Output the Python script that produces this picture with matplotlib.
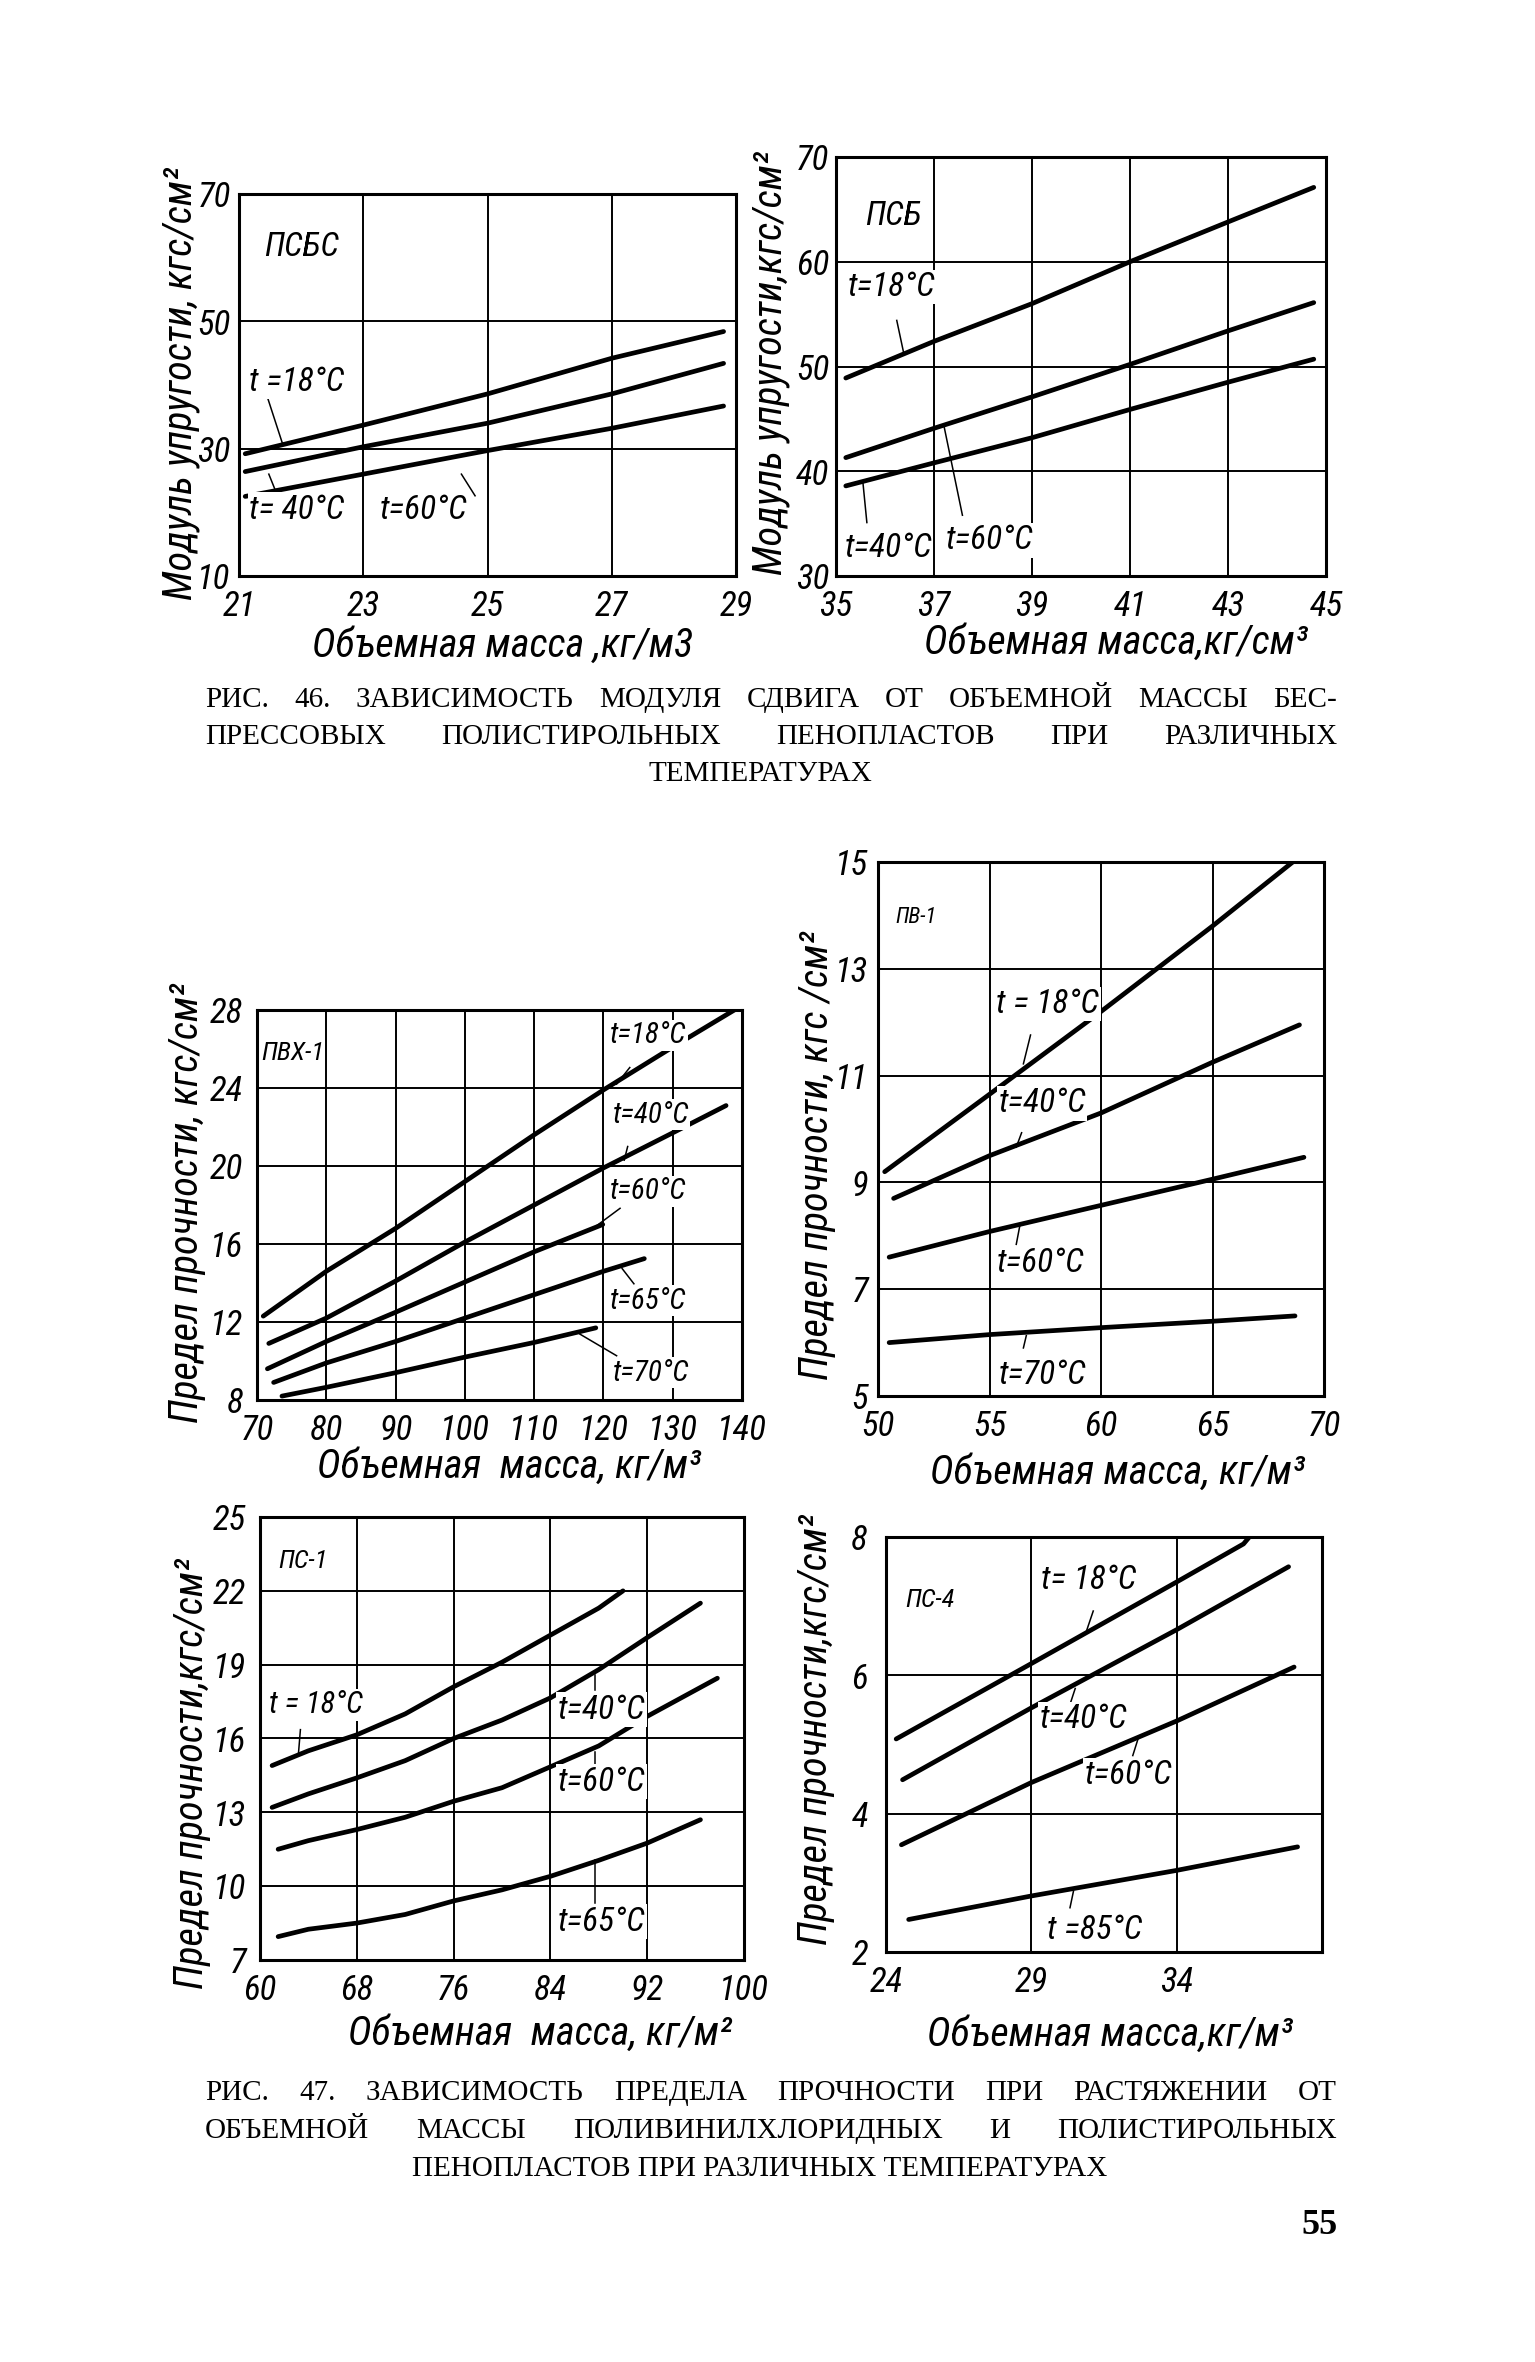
import matplotlib
matplotlib.use('Agg')
import matplotlib.pyplot as plt
from matplotlib import font_manager
from matplotlib.font_manager import FontProperties

# ---- data ----
# Fig. 46, ПСБС: modulus vs density
psbs_x = [21.1, 23, 25, 27, 28.8]
psbs_t18 = [29.2, 33.7, 38.6, 44.2, 48.4]
psbs_t40 = [26.4, 30.3, 34.0, 38.6, 43.4]
psbs_t60 = [22.5, 26.0, 29.7, 33.2, 36.7]

# Fig. 46, ПСБ
psb_x = [35.2, 37, 39, 41, 43, 44.75]
psb_t18 = [48.9, 52.4, 56.0, 60.0, 63.8, 67.1]
psb_t60 = [41.3, 44.1, 47.1, 50.2, 53.4, 56.1]
psb_t40 = [38.6, 40.8, 43.2, 45.9, 48.5, 50.7]

# Fig. 47, ПВХ-1
pvh_x18 = [70.9, 80, 90, 100, 110, 120, 130, 138.9]
pvh_t18 = [12.3, 14.6, 16.8, 19.2, 21.6, 23.9, 26.1, 28.0]
pvh_x40 = [71.7, 80, 90, 100, 110, 120, 130, 137.7]
pvh_t40 = [10.9, 12.2, 14.1, 16.1, 18.0, 19.9, 21.7, 23.1]
pvh_x60 = [71.5, 80, 90, 100, 110, 119.9]
pvh_t60 = [9.6, 11.0, 12.5, 14.05, 15.6, 17.0]
pvh_x65 = [72.4, 80, 90, 100, 110, 120, 125.9]
pvh_t65 = [8.9, 9.9, 11.0, 12.2, 13.4, 14.6, 15.25]
pvh_x70 = [73.6, 80, 90, 100, 110, 118.9]
pvh_t70 = [8.2, 8.65, 9.4, 10.2, 10.95, 11.7]

# Fig. 47, ПВ-1
pv_x18 = [50.3, 55, 60, 65, 68.6]
pv_t18 = [9.2, 10.65, 12.2, 13.8, 15.0]
pv_x40 = [50.7, 55, 60, 65, 68.9]
pv_t40 = [8.7, 9.5, 10.3, 11.25, 11.95]
pv_x60 = [50.5, 55, 60, 65, 69.1]
pv_t60 = [7.6, 8.08, 8.57, 9.06, 9.47]
pv_x70 = [50.5, 55, 60, 65, 68.7]
pv_t70 = [6.0, 6.15, 6.28, 6.4, 6.5]

# Fig. 47, ПС-1
ps1_x18 = [61.0, 64, 68, 72, 76, 80, 84, 88, 90.0]
ps1_t18 = [14.9, 15.5, 16.15, 17.0, 18.1, 19.1, 20.2, 21.3, 22.0]
ps1_x40 = [61.0, 64, 68, 72, 76, 80, 84, 88, 92, 96.4]
ps1_t40 = [13.2, 13.75, 14.4, 15.1, 16.0, 16.75, 17.65, 18.8, 20.1, 21.5]
ps1_x60 = [61.5, 64, 68, 72, 76, 80, 84, 88, 92, 97.8]
ps1_t60 = [11.5, 11.85, 12.3, 12.8, 13.45, 14.0, 14.85, 15.7, 16.9, 18.45]
ps1_x65 = [61.5, 64, 68, 72, 76, 80, 84, 88, 92, 96.4]
ps1_t65 = [7.95, 8.25, 8.5, 8.85, 9.4, 9.85, 10.4, 11.05, 11.75, 12.7]

# Fig. 47, ПС-4
ps4_x18 = [24.35, 29, 34, 36.3, 36.5]
ps4_t18 = [5.08, 6.17, 7.35, 7.9, 8.0]
ps4_x40 = [24.57, 29, 34, 37.85]
ps4_t40 = [4.49, 5.53, 6.66, 7.57]
ps4_x60 = [24.53, 29, 34, 38.04]
ps4_t60 = [3.55, 4.45, 5.34, 6.12]
ps4_x85 = [24.78, 29, 34, 38.16]
ps4_t85 = [2.47, 2.81, 3.18, 3.52]

caption46 = ["РИС. 46. ЗАВИСИМОСТЬ МОДУЛЯ СДВИГА ОТ ОБЪЕМНОЙ МАССЫ БЕС-",
             "ПРЕССОВЫХ ПОЛИСТИРОЛЬНЫХ ПЕНОПЛАСТОВ ПРИ РАЗЛИЧНЫХ",
             "ТЕМПЕРАТУРАХ"]
caption47 = ["РИС. 47. ЗАВИСИМОСТЬ ПРЕДЕЛА ПРОЧНОСТИ ПРИ РАСТЯЖЕНИИ ОТ",
             "ОБЪЕМНОЙ МАССЫ ПОЛИВИНИЛХЛОРИДНЫХ И ПОЛИСТИРОЛЬНЫХ",
             "ПЕНОПЛАСТОВ ПРИ РАЗЛИЧНЫХ ТЕМПЕРАТУРАХ"]

W, H = 1535, 2362


# pick a narrow italic face for the drafting-style lettering
def find_narrow():
    squeezed = ('condensed', 'semi-condensed', 'extra-condensed', 'ultra-condensed')
    best, best_score = None, -1
    for f in font_manager.fontManager.ttflist:
        nm = f.name
        narrow = 'Narrow' in nm or 'Condensed' in nm or str(f.stretch) in squeezed
        if not narrow:
            continue
        if f.weight not in (400, 'normal', 'regular', 'book'):
            continue
        score = 1
        if f.style in ('italic', 'oblique'):
            score += 10
        for i, key in enumerate(['DejaVu', 'Open', 'Noto', 'Roboto', 'Liberation']):
            if key in nm:
                score += i + 1
        if score > best_score:
            best, best_score = f, score
    return best


narrow_face = find_narrow()
plt.rcParams['font.family'] = ['DejaVu Sans']
plt.rcParams['font.style'] = 'italic'

if narrow_face is not None:
    HAND = FontProperties(fname=narrow_face.fname)
    K = 1.0
else:
    HAND = FontProperties(family='DejaVu Sans', style='italic')
    K = 0.8


def hp(size):
    fp = HAND.copy()
    fp.set_size(size * K)
    return fp


fig = plt.figure(figsize=(W / 100, H / 100), dpi=100)
fig.patch.set_facecolor('white')


def panel(l, t, r, b):
    return fig.add_axes([l / W, 1 - b / H, (r - l) / W, (b - t) / H])


def setup(ax, xlim, ylim, xt, yt, xtl=None, ypad=6):
    ax.set_xlim(xlim)
    ax.set_ylim(ylim)
    ax.set_xticks(xt)
    ax.set_yticks(yt)
    if xtl is not None:
        ax.set_xticklabels(xtl)
    ax.grid(True, color='black', lw=1.4)
    ax.set_axisbelow(True)
    ax.tick_params(axis='x', length=0, pad=10)
    ax.tick_params(axis='y', length=0, pad=ypad)
    for lab in ax.get_xticklabels() + ax.get_yticklabels():
        lab.set_fontproperties(hp(25))
    for s in ax.spines.values():
        s.set_linewidth(2.2)


def curve(ax, x, y):
    ax.plot(x, y, color='black', lw=3.4, solid_capstyle='round')


def note(ax, x, y, s, size=24):
    ax.text(x, y, s, fontproperties=hp(size), ha='left', va='center',
            bbox=dict(fc='white', ec='none', pad=1))


def leader(ax, p, q):
    ax.plot([p[0], q[0]], [p[1], q[1]], color='black', lw=1.1)


def labels(ax, xl, xc, yl, yc, size=29):
    ax.text(xc[0], xc[1], xl, transform=ax.transAxes, fontproperties=hp(size),
            ha='center', va='center')
    ax.text(yc[0], yc[1], yl, transform=ax.transAxes, fontproperties=hp(size),
            ha='center', va='center', rotation=90)


# ---- ПСБС ----
ax = panel(239, 194, 736, 576)
setup(ax, (21, 29), (10, 70), [21, 23, 25, 27, 29], [10, 30, 50, 70], ypad=6)
curve(ax, psbs_x, psbs_t18)
curve(ax, psbs_x, psbs_t40)
curve(ax, psbs_x, psbs_t60)
note(ax, 21.4, 61.6, "ПСБС")
note(ax, 21.16, 40.5, "t =18°C")
leader(ax, (21.45, 38.3), (21.7, 30.8))
note(ax, 21.16, 20.4, "t= 40°C")
leader(ax, (21.48, 26.0), (21.62, 22.6))
note(ax, 23.27, 20.4, "t=60°C")
leader(ax, (24.58, 26.0), (24.8, 22.6))
labels(ax, "Объемная масса ,кг/м3", (0.531, -0.182),
       "Модуль упругости, кгс/см²", (-0.118, 0.503))

# ---- ПСБ ----
ax = panel(836, 157, 1326, 576)
setup(ax, (35, 45), (30, 70), [35, 37, 39, 41, 43, 45], [30, 40, 50, 60, 70], ypad=5)
curve(ax, psb_x, psb_t18)
curve(ax, psb_x, psb_t60)
curve(ax, psb_x, psb_t40)
note(ax, 35.59, 64.4, "ПСБ")
note(ax, 35.24, 57.6, "t=18°C")
leader(ax, (36.24, 54.4), (36.39, 51.1))
note(ax, 35.17, 32.7, "t=40°C")
leader(ax, (35.55, 38.9), (35.63, 35.1))
note(ax, 37.23, 33.4, "t=60°C")
leader(ax, (37.2, 44.4), (37.58, 35.8))
labels(ax, "Объемная масса,кг/см³", (0.572, -0.16),
       "Модуль упругости,кгс/см²", (-0.133, 0.508))

# ---- ПВХ-1 ----
ax = panel(257, 1010, 742, 1400)
setup(ax, (70, 140), (8, 28), list(range(70, 141, 10)), [8, 12, 16, 20, 24, 28], ypad=10)
curve(ax, pvh_x18, pvh_t18)
curve(ax, pvh_x40, pvh_t40)
curve(ax, pvh_x60, pvh_t60)
curve(ax, pvh_x65, pvh_t65)
curve(ax, pvh_x70, pvh_t70)
note(ax, 70.56, 25.8, "ПВХ-1", 19)
note(ax, 121.0, 26.7, "t=18°C", 21)
leader(ax, (123.8, 25.05), (121.9, 24.2))
note(ax, 121.3, 22.64, "t=40°C", 21)
leader(ax, (123.5, 21.0), (123.0, 20.3))
note(ax, 121.0, 18.7, "t=60°C", 21)
leader(ax, (122.4, 17.83), (118.8, 16.88))
note(ax, 121.0, 13.1, "t=65°C", 21)
leader(ax, (122.7, 14.74), (124.4, 13.96))
note(ax, 121.3, 9.4, "t=70°C", 21)
leader(ax, (116.6, 11.38), (121.9, 10.27))
labels(ax, "Объемная  масса, кг/м³", (0.52, -0.172),
       "Предел прочности, кгс/см²", (-0.145, 0.505))

# ---- ПВ-1 ----
ax = panel(878, 862, 1324, 1396)
setup(ax, (50, 70), (5, 15), [50, 55, 60, 65, 70], [5, 7, 9, 11, 13, 15], ypad=7)
curve(ax, pv_x18, pv_t18)
curve(ax, pv_x40, pv_t40)
curve(ax, pv_x60, pv_t60)
curve(ax, pv_x70, pv_t70)
note(ax, 50.8, 13.97, "ПВ-1", 16)
note(ax, 55.31, 12.34, "t = 18°C")
leader(ax, (56.84, 11.76), (56.52, 11.22))
note(ax, 55.4, 10.48, "t=40°C")
leader(ax, (56.44, 9.93), (56.2, 9.66))
note(ax, 55.31, 7.49, "t=60°C")
leader(ax, (56.36, 8.19), (56.2, 7.84))
note(ax, 55.4, 5.39, "t=70°C")
leader(ax, (56.65, 6.13), (56.52, 5.9))
labels(ax, "Объемная масса, кг/м³", (0.538, -0.144),
       "Предел прочности, кгс /см²", (-0.137, 0.451))

# ---- ПС-1 ----
ax = panel(260, 1517, 744, 1960)
setup(ax, (60, 100), (7, 25), [60, 68, 76, 84, 92, 100], [7, 10, 13, 16, 19, 22, 25], ypad=10)
curve(ax, ps1_x18, ps1_t18)
curve(ax, ps1_x40, ps1_t40)
curve(ax, ps1_x60, ps1_t60)
curve(ax, ps1_x65, ps1_t65)
note(ax, 61.54, 23.2, "ПС-1", 19)
note(ax, 60.72, 17.37, "t = 18°C", 22)
leader(ax, (63.34, 16.36), (63.18, 15.4))
note(ax, 84.6, 17.17, "t=40°C")
leader(ax, (87.7, 18.6), (87.7, 17.98))
note(ax, 84.6, 14.25, "t=60°C")
leader(ax, (87.7, 15.45), (87.7, 14.95))
note(ax, 84.6, 8.56, "t=65°C")
leader(ax, (87.7, 11.07), (87.7, 9.3))
labels(ax, "Объемная  масса, кг/м²", (0.579, -0.167),
       "Предел прочности,кгс/см²", (-0.14, 0.422))

# ---- ПС-4 ----
ax = panel(886, 1537, 1322, 1952)
setup(ax, (24, 39), (2, 8), [24, 29, 34, 39], [2, 4, 6, 8], ['24', '29', '34', ''], ypad=13)
curve(ax, ps4_x18, ps4_t18)
curve(ax, ps4_x40, ps4_t40)
curve(ax, ps4_x60, ps4_t60)
curve(ax, ps4_x85, ps4_t85)
note(ax, 24.65, 7.09, "ПС-4", 19)
note(ax, 29.34, 7.38, "t= 18°C")
leader(ax, (31.13, 6.93), (30.88, 6.62))
note(ax, 29.28, 5.37, "t=40°C")
leader(ax, (30.51, 5.81), (30.33, 5.58))
note(ax, 30.82, 4.56, "t=60°C")
leader(ax, (32.67, 5.08), (32.49, 4.84))
note(ax, 29.53, 2.32, "t =85°C")
leader(ax, (30.45, 2.88), (30.33, 2.64))
labels(ax, "Объемная масса,кг/м³", (0.514, -0.198),
       "Предел прочности,кгс/см²", (-0.16, 0.537))

# ---- captions ----
cap = dict(fontsize=21, family=['Liberation Serif', 'DejaVu Serif'], style='normal',
           va='center')
renderer = fig.canvas.get_renderer()


def justified(line, x0, x1, ypx):
    words = line.split()
    texts = [fig.text(0, 1 - ypx / H, w, ha='left', **cap) for w in words]
    widths = [t.get_window_extent(renderer).width for t in texts]
    gap = (x1 - x0 - sum(widths)) / (len(words) - 1)
    x = x0
    for t, w in zip(texts, widths):
        t.set_x(x / W)
        x += w + gap


def centered(line, xc, ypx):
    fig.text(xc / W, 1 - ypx / H, line, ha='center', **cap)


justified(caption46[0], 205, 1337, 700)
justified(caption46[1], 205, 1337, 737)
centered(caption46[2], 760, 774)
justified(caption47[0], 205, 1337, 2093)
justified(caption47[1], 205, 1337, 2131)
centered(caption47[2], 760, 2169)

fig.text(1338 / W, 1 - 2226 / H, "55", ha='right', va='center', fontsize=26,
         family=['Liberation Serif', 'DejaVu Serif'], style='normal', weight='bold')

fig.savefig('out.png', dpi=100, facecolor='white')
